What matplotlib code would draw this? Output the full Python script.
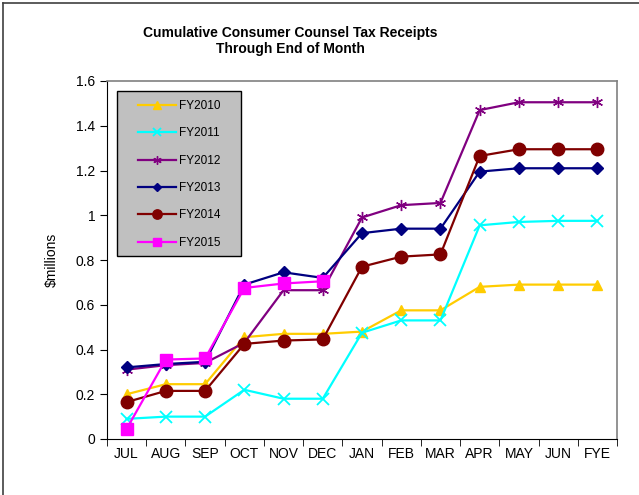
import matplotlib
matplotlib.use("Agg")
import matplotlib.pyplot as plt
import numpy as np
from matplotlib.patches import Rectangle
from matplotlib.lines import Line2D

months = ["JUL", "AUG", "SEP", "OCT", "NOV", "DEC", "JAN", "FEB", "MAR", "APR", "MAY", "JUN", "FYE"]
fy2010 = [0.20, 0.245, 0.245, 0.455, 0.47, 0.47, 0.48, 0.575, 0.575, 0.68, 0.69, 0.69, 0.69]
fy2011 = [0.09, 0.10, 0.10, 0.22, 0.18, 0.18, 0.475, 0.53, 0.53, 0.955, 0.97, 0.975, 0.975]
fy2012 = [0.31, 0.33, 0.34, 0.43, 0.665, 0.665, 0.99, 1.045, 1.055, 1.47, 1.505, 1.505, 1.505]
fy2013 = [0.32, 0.335, 0.345, 0.69, 0.745, 0.72, 0.92, 0.94, 0.94, 1.195, 1.21, 1.21, 1.21]
fy2014 = [0.165, 0.215, 0.215, 0.425, 0.44, 0.445, 0.77, 0.815, 0.825, 1.265, 1.295, 1.295, 1.295]
fy2015 = [0.045, 0.355, 0.36, 0.675, 0.695, 0.705]
yticks = [0, 0.2, 0.4, 0.6, 0.8, 1, 1.2, 1.4, 1.6]
ytick_labels = ["0", "0.2", "0.4", "0.6", "0.8", "1", "1.2", "1.4", "1.6"]

plt.rcParams['font.family'] = ['Liberation Sans', 'DejaVu Sans']

W, H = 639, 495
fig = plt.figure(figsize=(W/100, H/100), dpi=100)
L, R, T, B = 107, 617, 81, 439
ax = fig.add_axes([L/W, 1 - B/H, (R-L)/W, (B-T)/H])

x = np.arange(len(months))
series = [
    ("FY2010", fy2010, "#FFCC00", "^", 7, 1.0),
    ("FY2011", fy2011, "#00FFFF", "x", 8, 1.3),
    ("FY2012", fy2012, "#800080", (6, 2, 0), 8, 1.0),
    ("FY2013", fy2013, "#000080", "D", 6, 1.0),
    ("FY2014", fy2014, "#800000", "o", 9, 1.0),
    ("FY2015", fy2015, "#FF00FF", "s", 8, 1.0),
]
for name, vals, col, mk, ms, mew in series:
    ax.plot(x[:len(vals)], vals, color=col, marker=mk, markersize=ms, linewidth=1.6,
            markeredgewidth=mew, markerfacecolor=col, markeredgecolor=col, label=name, zorder=3)

ax.set_xlim(-0.5, len(months) - 0.5)
ax.set_ylim(0, 1.6)
ax.set_xticks(x)
ax.set_xticklabels(months, fontsize=10)
ax.set_xticks(np.arange(-0.5, len(months)), minor=True)
ax.tick_params(axis='x', which='major', length=0, pad=6)
ax.tick_params(axis='x', which='minor', length=5, direction='out', color='black')
ax.set_yticks(yticks)
ax.set_yticklabels(ytick_labels, fontsize=10)
ax.tick_params(axis='y', length=5, direction='out', color='black')
for s in ['top', 'right']:
    ax.spines[s].set_color('#808080')
    ax.spines[s].set_linewidth(1.2)
for s in ['left', 'bottom']:
    ax.spines[s].set_color('black')
ax.set_ylabel("$millions", fontsize=10, labelpad=12)

# legend box (gray background)
lx0, lx1, ly0, ly1 = 117, 241, 91, 256
ax.add_patch(Rectangle(((lx0-L)/(R-L), 1 - (ly1-T)/(B-T)), (lx1-lx0)/(R-L), (ly1-ly0)/(B-T),
                       transform=ax.transAxes, facecolor='#C0C0C0', edgecolor='black',
                       linewidth=1.0, zorder=4))
leg = ax.legend(loc='upper left', bbox_to_anchor=((138-L)/(R-L), 1 - (100-T)/(B-T)), fontsize=8.5,
                frameon=False, borderpad=0, labelspacing=1.3, handlelength=3.2,
                handletextpad=0.25, borderaxespad=0, markerscale=0.75)
leg.set_zorder(5)

fig.text(290/W, 1 - 33/H, "Cumulative Consumer Counsel Tax Receipts", ha='center', va='center',
         fontsize=10, fontweight='bold')
fig.text(290/W, 1 - 49/H, "Through End of Month", ha='center', va='center',
         fontsize=10, fontweight='bold')

# figure border: top and left
fig.lines.append(Line2D([3/W, 3/W], [0, 1 - 3/H], transform=fig.transFigure, color='#404040', linewidth=1.2))
fig.lines.append(Line2D([3/W, 1], [1 - 3/H, 1 - 3/H], transform=fig.transFigure, color='#404040', linewidth=1.2))

fig.savefig("out.png", dpi=100)
